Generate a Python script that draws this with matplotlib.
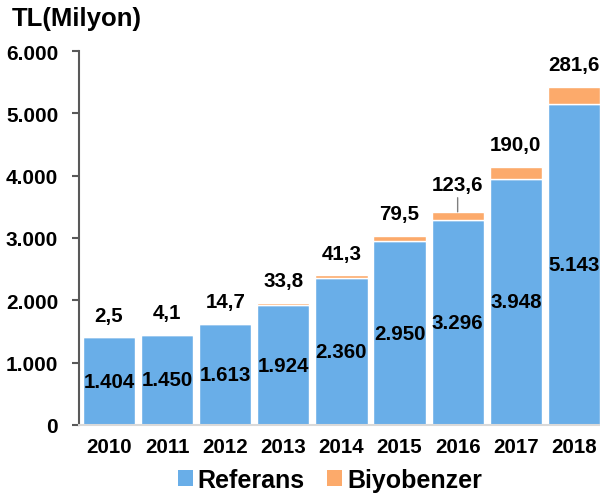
import matplotlib
matplotlib.use("Agg")
import matplotlib.pyplot as plt
from matplotlib.patches import Patch
import numpy as np

plt.rcParams['font.family'] = ['Liberation Sans', 'DejaVu Sans']
plt.rcParams['font.weight'] = 'bold'

years = ['2010', '2011', '2012', '2013', '2014', '2015', '2016', '2017', '2018']
referans = [1404, 1450, 1613, 1924, 2360, 2950, 3296, 3948, 5143]
biyobenzer = [2.5, 4.1, 14.7, 33.8, 41.3, 79.5, 123.6, 190.0, 281.6]
referans_labels = ['1.404', '1.450', '1.613', '1.924', '2.360', '2.950', '3.296', '3.948', '5.143']
biyo_labels = ['2,5', '4,1', '14,7', '33,8', '41,3', '79,5', '123,6', '190,0', '281,6']
yticks = [0, 1000, 2000, 3000, 4000, 5000, 6000]
ytick_labels = ['0', '1.000', '2.000', '3.000', '4.000', '5.000', '6.000']

blue = '#69AEE8'
orange = '#FCAA6B'

fig = plt.figure(figsize=(6.0, 5.02), dpi=100)
ax = fig.add_axes([79/600, 1-426/502, 1-79/600, (426-52)/502])

x = np.arange(len(years))
ax.bar(x, referans, width=0.9, color=blue, edgecolor='white', linewidth=1)
ax.bar(x, biyobenzer, bottom=referans, width=0.9, color=orange, edgecolor='white', linewidth=1)

ax.set_xlim(-0.517, 8.45)
ax.set_ylim(0, 6000)
ax.set_yticks(yticks)
ax.set_yticklabels(ytick_labels, fontsize=15, fontweight='bold')
ax.set_xticks(x)
ax.set_xticklabels(years, fontsize=14.8, fontweight='bold')
ax.tick_params(axis='x', length=0, pad=9)
ax.tick_params(axis='y', length=5, width=1.5, color='#595959', pad=10)

for s in ['top', 'right']:
    ax.spines[s].set_visible(False)
ax.spines['left'].set_color('#595959')
ax.spines['left'].set_linewidth(1.5)
ax.spines['bottom'].set_color('#D9D9D9')
ax.spines['bottom'].set_linewidth(1.5)

for i in range(len(years)):
    ax.text(x[i], referans[i] / 2, referans_labels[i], ha='center', va='center',
            fontsize=14.8, fontweight='bold', color='black')
    top = referans[i] + biyobenzer[i]
    if years[i] == '2016':
        ax.annotate(biyo_labels[i], xy=(x[i], top), xytext=(0, 20), textcoords='offset points',
                    ha='center', va='center', fontsize=14.8, fontweight='bold',
                    arrowprops=dict(arrowstyle='-', color='#808080', lw=1, shrinkA=1, shrinkB=0))
    else:
        ax.annotate(biyo_labels[i], xy=(x[i], top), xytext=(0, 16), textcoords='offset points',
                    ha='center', va='center', fontsize=14.8, fontweight='bold')

fig.text(12/600, 1-26/502, 'TL(Milyon)', fontsize=18.5, fontweight='bold', ha='left', va='baseline')

handles = [Patch(facecolor=blue, edgecolor='none'), Patch(facecolor=orange, edgecolor='none')]
fig.legend(handles, ['Referans', 'Biyobenzer'], loc='center', bbox_to_anchor=(330/600, 1-481/502),
           ncol=2, frameon=False, prop={'size': 18, 'weight': 'bold'},
           handlelength=0.6, handleheight=0.6, handletextpad=0.2, columnspacing=0.9,
           borderpad=0, borderaxespad=0)

fig.savefig('out.png', dpi=100)
